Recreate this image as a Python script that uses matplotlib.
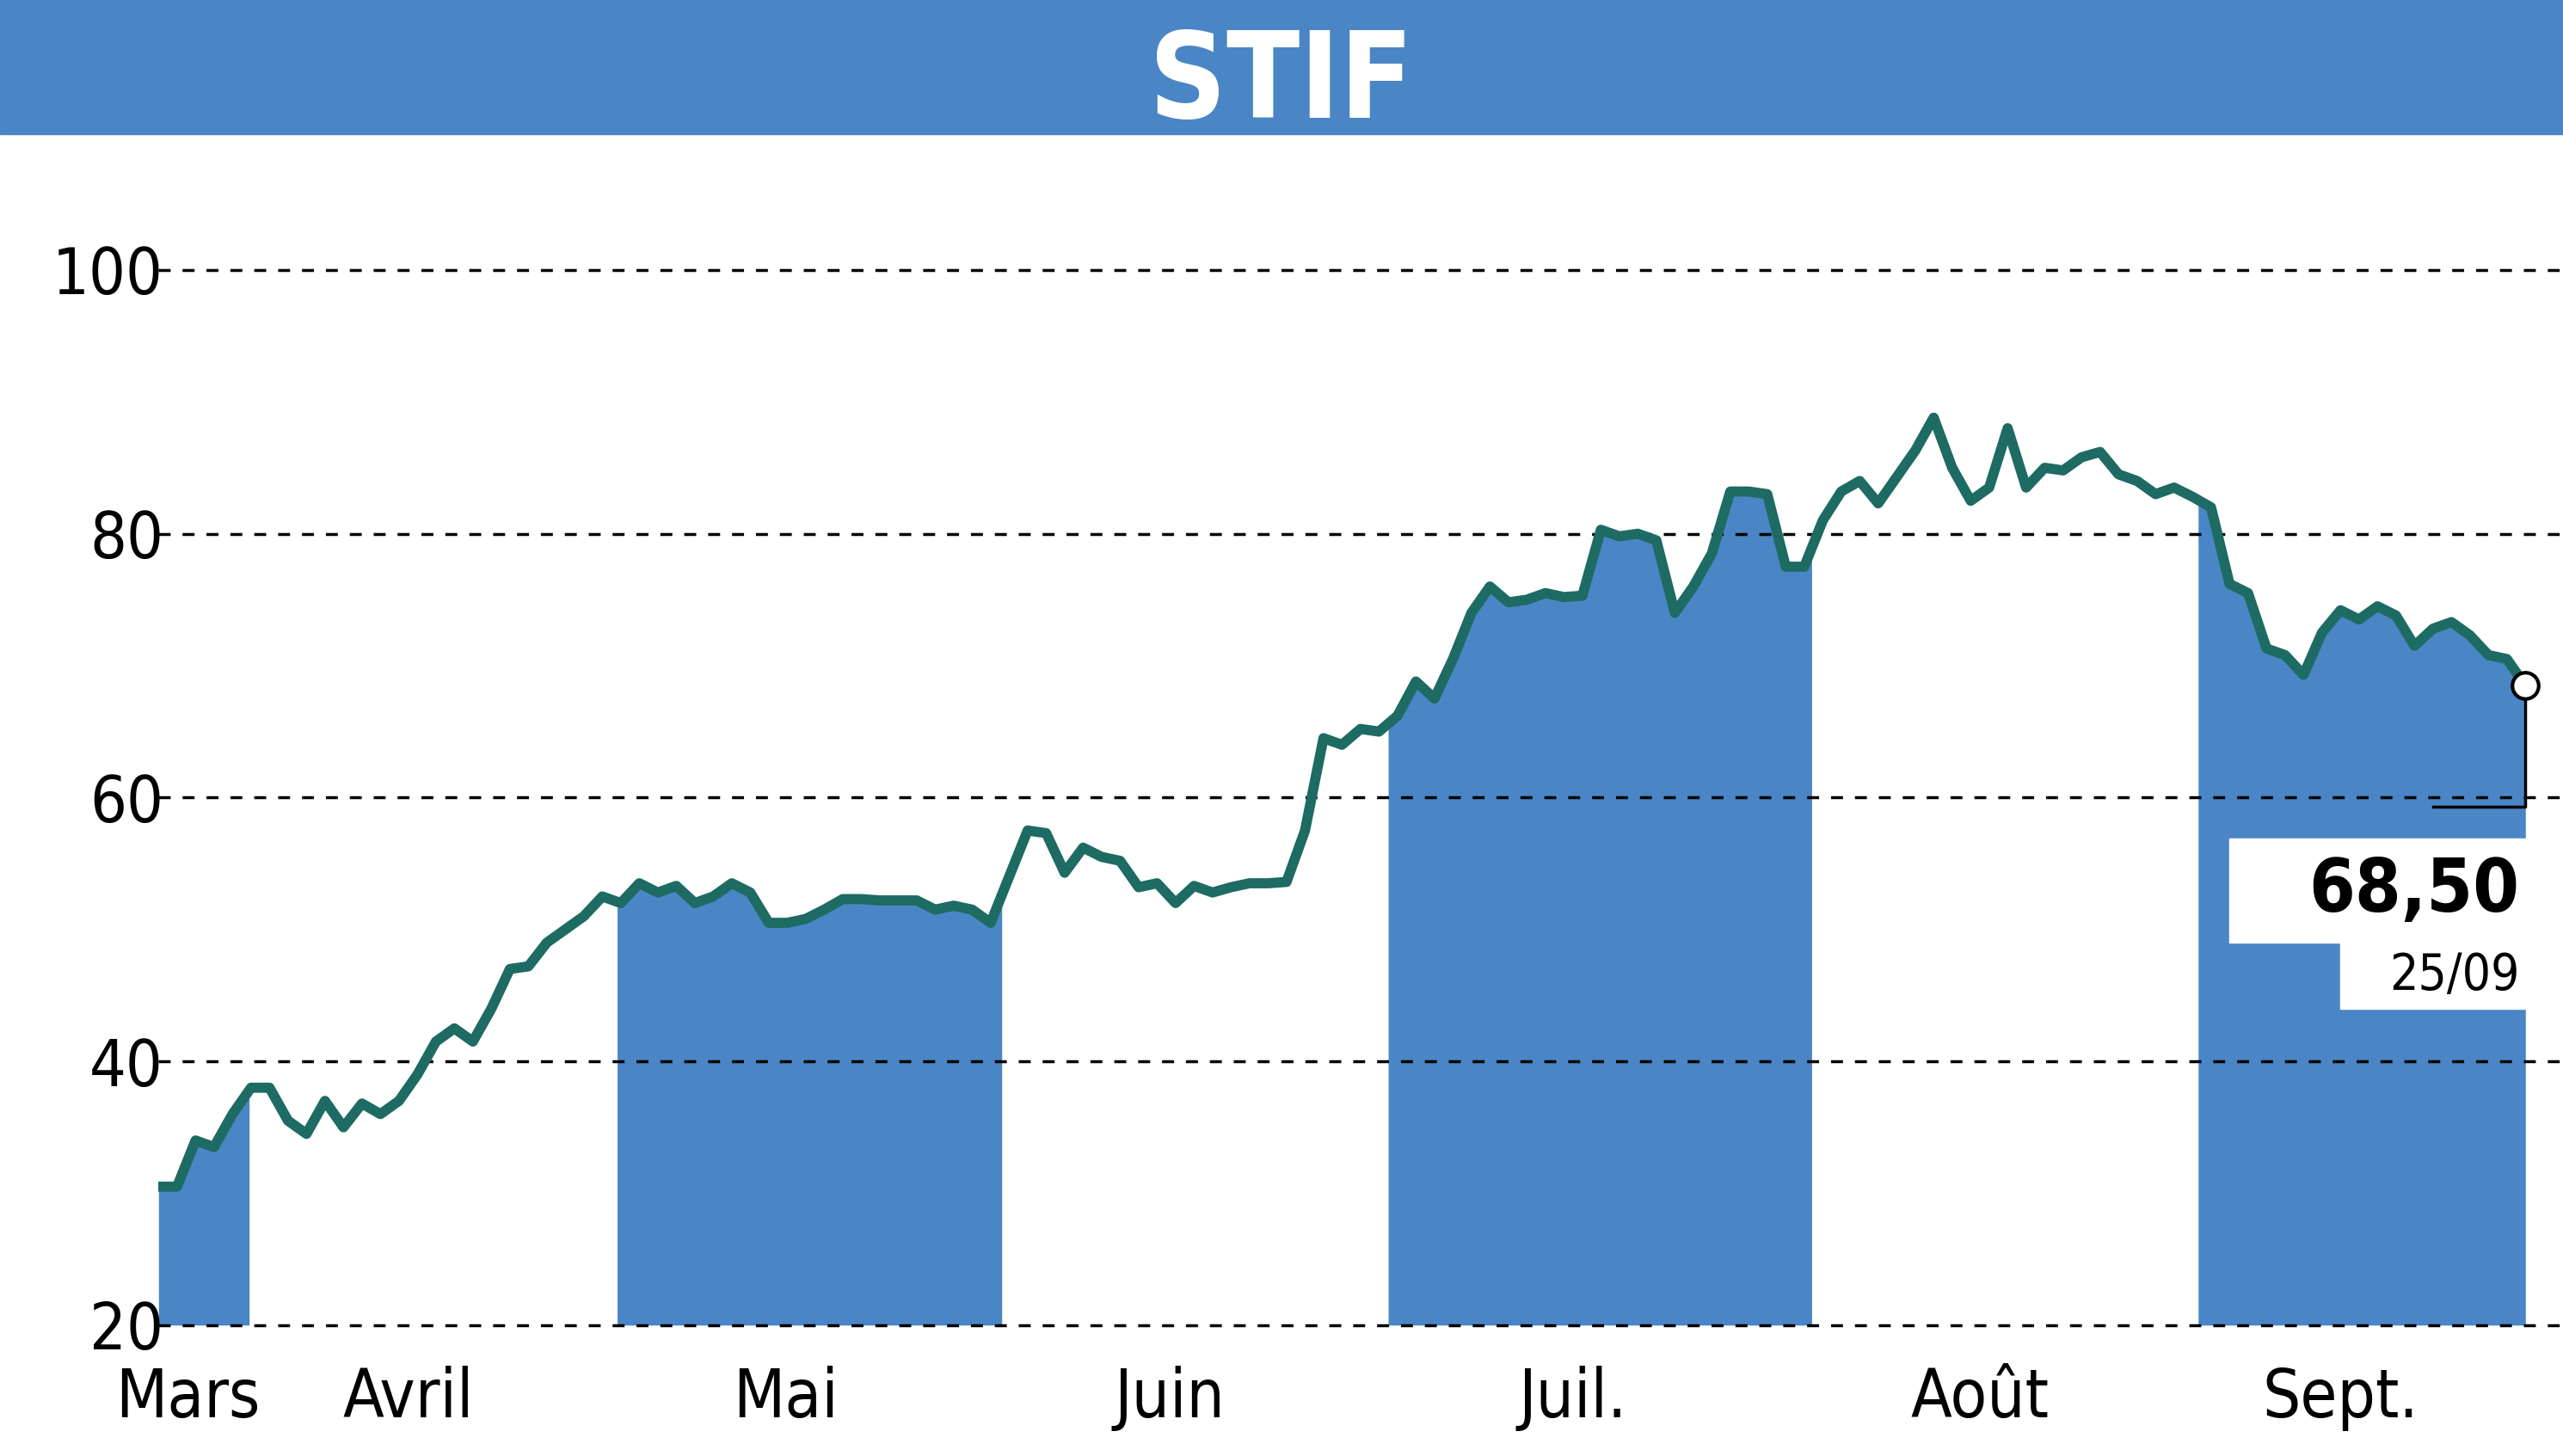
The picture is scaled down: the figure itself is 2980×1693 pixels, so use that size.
import numpy as np
import matplotlib.pyplot as plt
from matplotlib.patches import Rectangle

# closing prices, one per trading day, from early March to 25/09
prices = [30.5, 30.5, 34, 33.5, 36, 38, 38, 35.5, 34.5, 37, 35, 36.8, 36, 37, 39, 41.5, 42.5, 41.5, 44, 47, 47.2, 49, 50, 51, 52.5,
          52, 53.5, 52.8, 53.3, 52, 52.5, 53.5, 52.8, 50.5, 50.5, 50.8, 51.5, 52.3, 52.3, 52.2, 52.2, 52.2, 51.5, 51.8, 51.5, 50.5,
          54, 57.5, 57.3, 54.3, 56.2, 55.5, 55.2, 53.2, 53.5, 52, 53.3, 52.8, 53.2, 53.5, 53.5, 53.6, 57.5, 64.5, 64, 65.2, 65,
          66.2, 68.8, 67.5, 70.5, 74, 76, 74.8, 75, 75.5, 75.2, 75.3, 80.3, 79.8, 80, 79.5, 74, 76, 78.5, 83.2, 83.2, 83, 77.5, 77.5,
          81, 83.2, 84, 82.3, 84.3, 86.3, 88.8, 85, 82.5, 83.5, 88, 83.5, 85, 84.8, 85.8, 86.2, 84.5, 84, 83, 83.5, 82.8, 82,
          76.2, 75.5, 71.3, 70.8, 69.3, 72.5, 74.2, 73.5, 74.5, 73.8, 71.5, 72.8, 73.3, 72.3, 70.8, 70.5, 68.5]
month_names = ["Mars", "Avril", "Mai", "Juin", "Juil.", "Août", "Sept."]
month_bounds = [0, 4.9, 24.8, 45.6, 66.5, 89.4, 110.3, 128]
month_label_pos = [1.6, 13.5, 33.9, 54.7, 76.5, 98.5, 118]
y_ticks = [20, 40, 60, 80, 100]
last_value, last_date = "68,50", "25/09"

BLUE = "#4a86c5"
LINE = "#1d6b62"
FONT = dict(family="DejaVu Sans", stretch="condensed")

fig = plt.figure(figsize=(29.8, 16.93), dpi=100)
fig.patch.set_facecolor("white")

# title bar
fig.patches.append(Rectangle((0, 1 - 82 / 890), 1, 82 / 890, transform=fig.transFigure, color=BLUE, zorder=0))
fig.text(0.5, 1 - 44 / 890, "STIF", ha="center", va="center_baseline", color="white", fontsize=100,
         fontweight="bold", **FONT)

ax = fig.add_axes([97 / 1568, 1 - 810 / 890, 1 - 97 / 1568, (810 - 165) / 890])
x = np.arange(len(prices))
y = np.array(prices)
xmax = (1568 - 97) / (1448 / (len(prices) - 1))
ax.set_xlim(0, xmax)
ax.set_ylim(20, 100)

for i in range(0, len(month_bounds) - 1, 2):
    a, b = month_bounds[i], month_bounds[i + 1]
    xs = np.concatenate([[a], x[(x > a) & (x < b)], [b]])
    ys = np.interp(xs, x, y)
    ax.fill_between(xs, 20, ys, color=BLUE, lw=0, zorder=1)

for t in y_ticks:
    ax.axhline(t, color="black", lw=2.5, ls=(0, (4, 4)), zorder=2, clip_on=False)

ax.plot(x, y, color=LINE, lw=8.5, zorder=3, solid_joinstyle="round")

# last point marker with bracket
lx = x[-1]
ax.plot([lx, lx, lx - 5], [y[-1], 59.3, 59.3], color="black", lw=2.5, zorder=3)
ax.plot(lx, y[-1], "o", ms=22, mfc="white", mec="black", mew=3, zorder=4)
ax.add_patch(Rectangle((lx - 16, 49.0), 16, 7.9, color="white", zorder=4))
ax.add_patch(Rectangle((lx - 10, 44.0), 10, 5.0, color="white", zorder=4))
ax.text(lx - 0.3, 52.9, last_value, ha="right", va="center", fontsize=62, fontweight="bold",
        zorder=5, **FONT)
ax.text(lx - 0.3, 46.5, last_date, ha="right", va="center", fontsize=42, zorder=5, **FONT)

for s in ax.spines.values():
    s.set_visible(False)
ax.set_yticks(y_ticks)
ax.set_yticklabels([str(t) for t in y_ticks], fontsize=54, **FONT)
ax.tick_params(axis="y", length=0, pad=-4)
ax.set_xticks(month_label_pos)
ax.set_xticklabels(month_names, fontsize=56, **FONT)
ax.tick_params(axis="x", length=0, pad=34)

fig.savefig("out.png", dpi=100)
